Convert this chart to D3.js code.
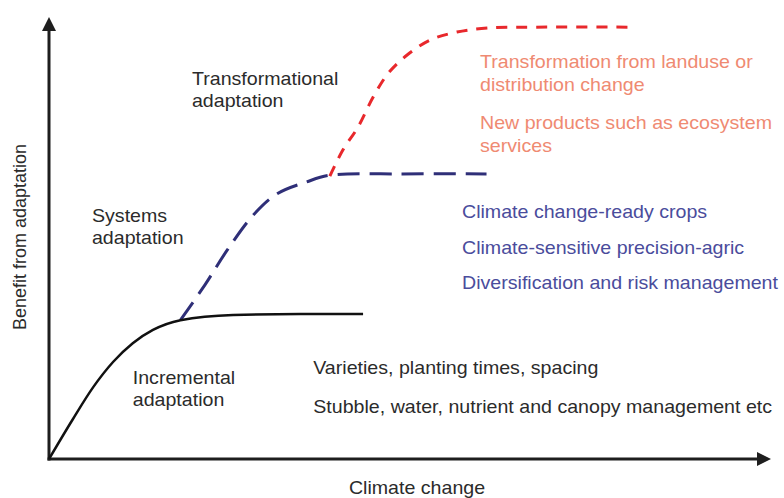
<!DOCTYPE html>
<html><head><meta charset="utf-8">
<script src="https://cdn.jsdelivr.net/npm/d3@7"></script>
<style>
html,body{margin:0;padding:0;background:#fff;}
svg{display:block;font-family:"Liberation Sans",Arial,Helvetica,sans-serif;}
</style></head>
<body>
<svg id="c" width="784" height="498"></svg>
<script>
// Conceptual curves (x: climate change 0-100, y: benefit 0-100)
const incrementalX = [0, 3.3, 6.1, 8.9, 11.6, 14.4, 18.2, 25.5, 34.8, 43.5];
const incrementalY = [0, 9.0, 16.2, 22.0, 26.2, 29.2, 31.4, 32.6, 32.8, 32.8];
const systemsX = [18.2, 21.6, 24.7, 28.3, 31.6, 35.7, 38.9, 48.6, 60.6];
const systemsY = [31.4, 39.4, 47.3, 55.2, 60.0, 62.7, 64.2, 64.5, 64.5];
const transformX = [38.9, 40.7, 42.8, 44.9, 47.0, 49.6, 52.8, 56.5, 60.7, 67.0, 81.3];
const transformY = [64.0, 69.9, 75.1, 81.9, 87.3, 91.4, 94.8, 96.6, 97.5, 97.7, 97.7];

const stageLabels = [
  {lines:["Transformational","adaptation"], x:19.8, y:84.6},
  {lines:["Systems","adaptation"], x:5.95, y:53.6},
  {lines:["Incremental","adaptation"], x:11.6, y:17.0}
];
const incrementalNotes = ["Varieties, planting times, spacing","Stubble, water, nutrient and canopy management etc"];
const systemsNotes = ["Climate change-ready crops","Climate-sensitive precision-agric","Diversification and risk management"];
const transformNotes = ["Transformation from landuse or","distribution change","New products such as ecosystem","services"];
const xTitle = "Climate change";
const yTitle = "Benefit from adaptation";

const svg = d3.select("#c");
const x = d3.scaleLinear().domain([0,100]).range([49,771]);
const y = d3.scaleLinear().domain([0,100]).range([459,17]);

// axes
const axisColor = "#1e1e1e";
svg.append("line").attr("x1",x(0)).attr("y1",y(0)+1.5).attr("x2",x(0)).attr("y2",y(100)+12)
  .attr("stroke",axisColor).attr("stroke-width",3);
svg.append("line").attr("x1",x(0)-1.5).attr("y1",y(0)).attr("x2",x(100)-12).attr("y2",y(0))
  .attr("stroke",axisColor).attr("stroke-width",3);
svg.append("path").attr("d",`M${x(0)},${y(100)} L${x(0)-7},${y(100)+14} L${x(0)+7},${y(100)+14} Z`).attr("fill",axisColor);
svg.append("path").attr("d",`M${x(100)},${y(0)} L${x(100)-14},${y(0)-7} L${x(100)-14},${y(0)+7} Z`).attr("fill",axisColor);

const line = d3.line().x(d=>x(d[0])).y(d=>y(d[1])).curve(d3.curveCatmullRom.alpha(0.5));
const lineMono = d3.line().x(d=>x(d[0])).y(d=>y(d[1])).curve(d3.curveMonotoneX);
const zip = (a,b)=>a.map((v,i)=>[v,b[i]]);

svg.append("path").attr("d",line(zip(systemsX,systemsY))).attr("fill","none")
  .attr("stroke","#2f2f78").attr("stroke-width",3).attr("stroke-dasharray","22,10");
svg.append("path").attr("d",line(zip(transformX,transformY))).attr("fill","none")
  .attr("stroke","#e8282c").attr("stroke-width",3).attr("stroke-dasharray","11,9");
svg.append("path").attr("d",lineMono(zip(incrementalX,incrementalY))).attr("fill","none")
  .attr("stroke","#111").attr("stroke-width",2.5);

const fs = 18, sx = 1.09;
function block(lines, px, py, lh, color){
  const g = svg.append("g").attr("transform",`translate(${px},${py}) scale(${sx},1)`);
  const t = g.append("text").attr("fill",color).attr("font-size",fs);
  lines.forEach((s,i)=>t.append("tspan").attr("x",0).attr("y",i*lh).text(s));
}
stageLabels.forEach(s=>block(s.lines, x(s.x), y(s.y), 22, "#2b2b2b"));
block(incrementalNotes, x(36.6), y(19.2), 39, "#2b2b2b");
block(systemsNotes, x(57.2), y(54.5), 35.5, "#4a4c9c");
block(transformNotes.slice(0,2), x(59.7), y(88.5), 23, "#ef8a72");
block(transformNotes.slice(2), x(59.7), y(74.7), 23, "#ef8a72");

svg.append("g").attr("transform",`translate(417,494) scale(${sx},1)`)
  .append("text").attr("text-anchor","middle")
  .attr("font-size",fs).attr("fill","#2b2b2b").text(xTitle);
svg.append("text").attr("transform","translate(26,237) rotate(-90)").attr("text-anchor","middle")
  .attr("font-size",fs).attr("fill","#2b2b2b").text(yTitle);
</script>
</body></html>
